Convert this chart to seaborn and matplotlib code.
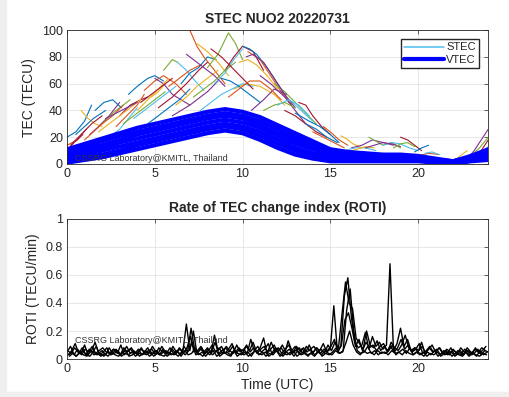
import numpy as np
import pandas as pd
import matplotlib
matplotlib.use("Agg")
import matplotlib.pyplot as plt
from matplotlib.lines import Line2D
from matplotlib.patches import Rectangle
import seaborn as sns

# STEC arcs: (hours, TECU)
stec_arcs = [
    ([0.0, 0.5, 1.0, 1.4], [20, 24, 32, 44]),
    ([0.0, 0.6, 1.1], [14, 18, 26]),
    ([0.8, 1.2, 1.6, 2.0], [40, 34, 30, 28]),
    ([1.3, 1.8, 2.4, 3.0], [22, 28, 36, 46]),
    ([2.0, 2.6, 3.2, 3.6], [30, 38, 44, 48]),
    ([2.4, 3.0, 3.5, 4.0], [20, 26, 34, 42]),
    ([3.0, 3.6, 4.2, 4.6], [36, 44, 48, 50]),
    ([3.5, 4.0, 4.6, 5.0, 5.5], [52, 58, 64, 66, 62]),
    ([4.4, 5.0, 5.5, 6.2, 6.8], [55, 62, 66, 60, 52]),
    ([4.8, 5.2, 5.6], [50, 54, 60]),
    ([5.0, 5.5, 6.0, 6.5, 7.0], [64, 60, 52, 48, 44]),
    ([5.5, 6.0, 6.3], [70, 78, 76]),
    ([6.3, 6.8, 7.3, 7.8], [76, 70, 62, 55]),
    ([5.2, 6.0, 6.8, 7.5, 8.0], [42, 50, 60, 70, 76]),
    ([6.5, 7.0, 7.5, 8.0, 8.5], [60, 68, 72, 80, 78]),
    ([7.0, 7.4, 7.8, 8.4, 9.0], [100, 88, 80, 70, 60]),
    ([7.4, 8.0, 8.6, 9.2], [90, 84, 76, 66]),
    ([6.0, 7.0, 8.0, 8.6], [36, 44, 54, 62]),
    ([8.0, 8.6, 9.2, 9.6, 10.0], [72, 82, 98, 90, 78]),
    ([8.4, 9.0, 9.5, 10.0], [60, 68, 78, 86]),
    ([9.0, 9.5, 10.0, 10.6, 11.2], [70, 80, 88, 84, 70]),
    ([10.0, 10.4, 10.8, 11.4, 12.0, 12.6], [88, 86, 82, 72, 60, 48]),
    ([10.3, 11.0, 11.6, 12.2, 12.8], [84, 78, 66, 54, 44]),
    ([9.5, 10.2, 11.0, 11.8, 12.4], [56, 60, 58, 52, 44]),
    ([11.0, 11.6, 12.4, 13.0, 13.6], [66, 60, 50, 40, 30]),
    ([11.8, 12.4, 13.0, 13.6, 14.2], [60, 54, 46, 38, 30]),
    ([12.5, 13.0, 13.5, 14.0], [50, 44, 38, 32]),
    ([13.2, 13.6, 14.0, 14.5, 15.0], [46, 44, 36, 28, 22]),
    ([13.0, 13.8, 14.4, 15.0, 15.5], [38, 32, 28, 22, 16]),
    ([14.6, 15.0, 15.5, 16.0], [28, 24, 18, 14]),
    ([15.6, 15.9, 16.3, 16.8], [21, 19, 15, 12]),
    ([16.2, 16.8, 17.4, 18.0, 18.6], [12, 14, 18, 16, 14]),
    ([17.2, 17.6, 18.0, 18.5, 19.0], [20, 17, 14, 16, 12]),
    ([18.0, 18.5, 19.0, 19.5, 20.0], [14, 16, 15, 12, 10]),
    ([19.0, 19.4, 19.8, 20.2], [20, 18, 14, 10]),
    ([19.8, 20.2, 20.6], [9, 12, 14]),
    ([20.0, 20.6, 21.2], [6, 8, 7]),
    ([22.0, 22.4, 22.8], [2, 6, 10]),
    ([22.8, 23.2, 23.6, 24.0], [4, 10, 18, 26]),
    ([23.0, 23.5, 24.0], [6, 12, 20]),
    ([23.3, 23.7, 24.0], [5, 9, 13]),
    ([0.2, 0.8, 1.4, 2.0], [14, 22, 30, 36]),
    ([1.6, 2.1, 2.6, 3.1], [40, 46, 48, 42]),
    ([2.8, 3.4, 4.0, 4.4], [28, 36, 44, 52]),
    ([4.0, 4.6, 5.2, 5.8], [40, 48, 56, 64]),
    ([10.5, 11.2, 11.8, 12.5], [40, 48, 56, 52]),
    ([14.5, 15.2, 15.8, 16.4], [12, 10, 9, 8]),
    ([15.8, 16.4, 17.0, 17.6], [10, 12, 12, 10]),
    ([0.0, 0.4, 0.9], [10, 16, 22]),
    ([0.5, 1.0, 1.5, 2.2], [22, 28, 34, 40]),
    ([1.0, 1.5, 2.0, 2.6, 3.2], [18, 24, 30, 36, 44]),
    ([1.8, 2.4, 3.0, 3.6, 4.2], [24, 30, 36, 42, 48]),
    ([2.2, 2.8, 3.4, 4.0], [34, 38, 42, 46]),
    ([3.2, 3.8, 4.4, 5.0, 5.6], [30, 36, 42, 48, 54]),
    ([3.8, 4.4, 5.0, 5.6, 6.2], [34, 40, 46, 52, 58]),
    ([4.2, 4.8, 5.4, 6.0], [46, 52, 58, 64]),
    ([4.6, 5.2, 5.8, 6.4, 7.0], [30, 36, 42, 48, 56]),
    ([5.8, 6.4, 7.0, 7.6], [58, 64, 70, 74]),
    ([6.2, 6.8, 7.4, 8.0, 8.6], [44, 50, 58, 64, 70]),
    ([6.8, 7.2, 7.8, 8.4, 9.0], [82, 78, 72, 66, 58]),
    ([7.2, 7.8, 8.4, 9.0, 9.6], [50, 56, 62, 70, 76]),
    ([7.6, 8.2, 8.8, 9.4, 10.0, 10.6], [40, 46, 52, 56, 60, 58]),
    ([8.2, 8.8, 9.4, 10.0, 10.6], [86, 80, 72, 64, 56]),
    ([8.8, 9.3, 9.8, 10.4, 11.0], [64, 62, 58, 52, 46]),
    ([9.2, 9.8, 10.4, 11.0, 11.6, 12.2], [50, 56, 62, 62, 56, 48]),
    ([9.8, 10.3, 10.8, 11.4, 12.0], [76, 78, 74, 66, 56]),
    ([10.2, 10.6, 11.2, 11.8, 12.4, 13.0], [80, 82, 76, 64, 52, 42]),
    ([11.2, 11.8, 12.4, 13.0], [40, 44, 46, 42]),
    ([12.0, 12.6, 13.2, 13.8], [44, 48, 44, 36]),
    ([12.4, 13.0, 13.6, 14.2, 14.8], [40, 36, 30, 24, 20]),
    ([13.6, 14.2, 14.8, 15.4], [30, 26, 20, 16]),
    ([14.0, 14.6, 15.2, 15.8], [24, 20, 16, 12]),
    ([16.0, 16.5, 17.0, 17.5], [9, 11, 13, 12]),
    ([17.0, 17.5, 18.0, 18.5, 19.0], [12, 14, 16, 15, 13]),
    ([18.6, 19.0, 19.4, 19.8], [12, 15, 16, 13]),
    ([20.4, 20.8, 21.2], [8, 9, 7]),
    ([23.5, 23.8, 24.0], [8, 14, 18]),
]

# VTEC band, hourly values 0..24 h
vtec_hours = list(range(25))
vtec_lines = [
    [1, 3, 5, 8, 11, 14, 17, 20, 23, 25, 23, 18, 12, 7, 4, 2, 2, 2, 2, 2, 2, 1, 0, 2, 3],
    [3, 5, 7, 10, 14, 17, 20, 23, 26, 28, 26, 21, 15, 10, 6, 4, 3, 3, 3, 3, 3, 1, 1, 3, 4],
    [4, 7, 10, 13, 16, 19, 22, 25, 28, 30, 28, 24, 18, 12, 8, 5, 4, 4, 4, 4, 3, 2, 1, 3, 6],
    [6, 9, 12, 16, 19, 22, 25, 28, 31, 33, 31, 27, 21, 15, 11, 7, 6, 5, 5, 4, 4, 2, 1, 4, 7],
    [8, 11, 14, 18, 22, 25, 28, 31, 34, 36, 34, 29, 23, 18, 13, 8, 7, 6, 5, 5, 5, 3, 2, 5, 8],
    [9, 13, 17, 21, 24, 27, 30, 33, 36, 38, 36, 32, 26, 20, 15, 10, 8, 7, 6, 6, 5, 3, 2, 5, 10],
    [11, 15, 19, 23, 27, 30, 33, 36, 39, 41, 39, 35, 29, 23, 17, 11, 9, 8, 7, 7, 6, 4, 2, 6, 11],
]

# ROTI, 0.2 h steps, five overlapping series
roti_a = [
    0.05, 0.09, 0.03, 0.07, 0.04, 0.10, 0.03, 0.06, 0.12, 0.04,
    0.06, 0.03, 0.08, 0.04, 0.07, 0.03, 0.05, 0.09, 0.04, 0.06,
    0.03, 0.07, 0.05, 0.08, 0.03, 0.06, 0.04, 0.09, 0.05, 0.03,
    0.07, 0.04, 0.08, 0.05, 0.25, 0.06, 0.20, 0.04, 0.07, 0.05,
    0.08, 0.04, 0.17, 0.06, 0.09, 0.04, 0.07, 0.11, 0.05, 0.08,
    0.04, 0.09, 0.06, 0.12, 0.05, 0.08, 0.15, 0.04, 0.07, 0.10,
    0.05, 0.08, 0.04, 0.13, 0.06, 0.09, 0.04, 0.07, 0.05, 0.10,
    0.04, 0.08, 0.06, 0.11, 0.05, 0.07, 0.38, 0.06, 0.09, 0.45,
    0.58, 0.30, 0.12, 0.08, 0.10, 0.19, 0.07, 0.16, 0.09, 0.12,
    0.07, 0.10, 0.68, 0.06, 0.11, 0.22, 0.09, 0.14, 0.06, 0.08,
    0.05, 0.12, 0.04, 0.07, 0.10, 0.05, 0.08, 0.04, 0.06, 0.03,
    0.07, 0.04, 0.06, 0.03, 0.08, 0.05, 0.04, 0.07, 0.03, 0.06,
    0.05,
]
roti_b = [
    0.03, 0.06, 0.11, 0.04, 0.08, 0.03, 0.07, 0.05, 0.09, 0.03,
    0.05, 0.08, 0.03, 0.07, 0.04, 0.10, 0.03, 0.06, 0.08, 0.04,
    0.07, 0.03, 0.06, 0.04, 0.09, 0.05, 0.03, 0.07, 0.04, 0.08,
    0.04, 0.06, 0.03, 0.09, 0.05, 0.22, 0.07, 0.05, 0.08, 0.04,
    0.06, 0.10, 0.05, 0.08, 0.04, 0.09, 0.06, 0.04, 0.10, 0.05,
    0.07, 0.04, 0.14, 0.06, 0.09, 0.05, 0.07, 0.11, 0.04, 0.08,
    0.06, 0.10, 0.05, 0.07, 0.04, 0.09, 0.06, 0.08, 0.05, 0.07,
    0.09, 0.05, 0.07, 0.04, 0.10, 0.06, 0.12, 0.08, 0.32, 0.55,
    0.40, 0.36, 0.15, 0.11, 0.07, 0.20, 0.10, 0.08, 0.13, 0.06,
    0.09, 0.05, 0.12, 0.08, 0.06, 0.10, 0.17, 0.08, 0.05, 0.07,
    0.11, 0.04, 0.06, 0.09, 0.05, 0.07, 0.03, 0.06, 0.04, 0.08,
    0.03, 0.06, 0.04, 0.07, 0.05, 0.03, 0.08, 0.04, 0.06, 0.09,
    0.04,
]
roti_c = [
    0.02, 0.04, 0.02, 0.05, 0.03, 0.02, 0.06, 0.03, 0.04, 0.02,
    0.04, 0.02, 0.05, 0.03, 0.02, 0.04, 0.06, 0.02, 0.03, 0.05,
    0.02, 0.04, 0.03, 0.06, 0.02, 0.04, 0.03, 0.02, 0.05, 0.03,
    0.04, 0.02, 0.05, 0.03, 0.06, 0.12, 0.03, 0.04, 0.02, 0.05,
    0.03, 0.06, 0.02, 0.04, 0.05, 0.03, 0.02, 0.06, 0.04, 0.03,
    0.05, 0.02, 0.04, 0.06, 0.03, 0.05, 0.02, 0.04, 0.03, 0.06,
    0.02, 0.04, 0.03, 0.05, 0.02, 0.06, 0.03, 0.04, 0.02, 0.05,
    0.03, 0.06, 0.02, 0.04, 0.03, 0.05, 0.08, 0.04, 0.06, 0.35,
    0.50, 0.20, 0.06, 0.04, 0.05, 0.09, 0.04, 0.06, 0.03, 0.05,
    0.04, 0.06, 0.10, 0.03, 0.05, 0.07, 0.04, 0.08, 0.03, 0.05,
    0.04, 0.02, 0.05, 0.03, 0.06, 0.02, 0.04, 0.03, 0.05, 0.02,
    0.04, 0.03, 0.02, 0.05, 0.03, 0.04, 0.02, 0.06, 0.03, 0.05,
    0.03,
]
roti_d = [
    0.06, 0.04, 0.08, 0.05, 0.03, 0.07, 0.05, 0.09, 0.04, 0.06,
    0.08, 0.05, 0.04, 0.07, 0.06, 0.03, 0.08, 0.05, 0.07, 0.04,
    0.05, 0.08, 0.04, 0.06, 0.07, 0.03, 0.08, 0.05, 0.06, 0.04,
    0.09, 0.05, 0.07, 0.04, 0.08, 0.16, 0.05, 0.06, 0.09, 0.04,
    0.07, 0.05, 0.12, 0.04, 0.06, 0.08, 0.05, 0.09, 0.04, 0.07,
    0.06, 0.10, 0.05, 0.08, 0.04, 0.07, 0.09, 0.05, 0.12, 0.06,
    0.08, 0.04, 0.07, 0.10, 0.05, 0.06, 0.08, 0.04, 0.09, 0.06,
    0.05, 0.08, 0.04, 0.07, 0.06, 0.09, 0.14, 0.05, 0.10, 0.28,
    0.33, 0.22, 0.09, 0.14, 0.06, 0.12, 0.08, 0.10, 0.06, 0.09,
    0.11, 0.06, 0.09, 0.05, 0.08, 0.14, 0.07, 0.10, 0.05, 0.08,
    0.06, 0.09, 0.04, 0.08, 0.05, 0.06, 0.08, 0.04, 0.07, 0.05,
    0.06, 0.04, 0.08, 0.05, 0.06, 0.04, 0.07, 0.05, 0.08, 0.06,
    0.05,
]
roti_e = [
    0.03, 0.05, 0.02, 0.04, 0.06, 0.03, 0.02, 0.05, 0.03, 0.04,
    0.02, 0.05, 0.03, 0.04, 0.06, 0.02, 0.04, 0.03, 0.05, 0.02,
    0.04, 0.03, 0.05, 0.02, 0.04, 0.06, 0.03, 0.05, 0.02, 0.04,
    0.03, 0.05, 0.02, 0.06, 0.03, 0.04, 0.08, 0.03, 0.05, 0.02,
    0.05, 0.03, 0.06, 0.02, 0.04, 0.05, 0.03, 0.06, 0.02, 0.04,
    0.03, 0.05, 0.02, 0.06, 0.04, 0.03, 0.05, 0.02, 0.04, 0.06,
    0.04, 0.02, 0.05, 0.03, 0.06, 0.02, 0.04, 0.05, 0.03, 0.04,
    0.02, 0.05, 0.03, 0.06, 0.04, 0.03, 0.06, 0.04, 0.05, 0.12,
    0.20, 0.10, 0.05, 0.03, 0.06, 0.04, 0.05, 0.03, 0.06, 0.04,
    0.05, 0.03, 0.06, 0.04, 0.05, 0.03, 0.06, 0.04, 0.03, 0.05,
    0.03, 0.05, 0.02, 0.04, 0.03, 0.05, 0.02, 0.04, 0.03, 0.05,
    0.02, 0.04, 0.03, 0.05, 0.02, 0.04, 0.03, 0.02, 0.04, 0.03,
    0.03,
]
roti_series = [roti_a, roti_b, roti_c, roti_d, roti_e]
roti_offsets = [0.0, 0.067, 0.133, 0.033, 0.1]

matlab_colors = ["#0072BD", "#D95319", "#EDB120", "#7E2F8E",
                 "#77AC30", "#4DBEEE", "#A2142F"]

roti_grid = np.arange(121) * 0.2

sns.set_style("whitegrid")
plt.rcParams["font.family"] = ["Liberation Sans", "DejaVu Sans"]

fig = plt.figure(figsize=(5.10, 3.97), dpi=100)
fig.patch.set_facecolor("white")
fig.add_artist(Rectangle((0, 0), 6 / 510, 1, transform=fig.transFigure,
                         color="#efefef", zorder=-1))
fig.add_artist(Rectangle((0, 0), 1, 5 / 397, transform=fig.transFigure,
                         color="#efefef", zorder=-1))

ax1 = fig.add_axes([0.1314, 0.587, 0.826, 0.337])
ax2 = fig.add_axes([0.1314, 0.0957, 0.826, 0.3527])

# top panel: thin STEC arcs then thick VTEC
for i, (t, v) in enumerate(stec_arcs):
    sns.lineplot(x=t, y=v, color=matlab_colors[i % 7], lw=0.8,
                 estimator=None, sort=False, ax=ax1)
for v in vtec_lines:
    sns.lineplot(x=vtec_hours, y=v, color="#0000FF", lw=3.0,
                 estimator=None, sort=False, ax=ax1)

# bottom panel: ROTI
for off, s in zip(roti_offsets, roti_series):
    t = roti_grid + off
    keep = t <= 24
    sns.lineplot(x=t[keep], y=np.array(s)[keep], color="black", lw=1.0,
                 estimator=None, sort=False, ax=ax2)

for ax in (ax1, ax2):
    ax.set_xlim(0, 24)
    ax.set_xticks([0, 5, 10, 15, 20])
    ax.grid(True, color="#e3e3e3", lw=0.6)
    ax.tick_params(direction="in", length=3, width=0.5, labelsize=9,
                   top=True, right=True, colors="#262626", pad=3)
    for sp in ax.spines.values():
        sp.set_color("#262626")
        sp.set_linewidth(0.6)

ax1.set_ylim(0, 100)
ax1.set_yticks([0, 20, 40, 60, 80, 100])
ax1.set_xlabel("")
ax1.set_ylabel("TEC (TECU)", fontsize=10, color="#262626")
ax1.set_title("STEC NUO2 20220731", fontsize=10, fontweight="bold", pad=5)
ax1.text(0.018, 0.02, "CSSRG Laboratory@KMITL, Thailand", transform=ax1.transAxes,
         fontsize=6.5, color="#333333")
handles = [Line2D([], [], color="#4DBEEE", lw=1.1),
           Line2D([], [], color="#0000FF", lw=3.0)]
ax1.legend(handles, ["STEC", "VTEC"], loc="upper right", fontsize=8,
           frameon=True, fancybox=False, edgecolor="#262626", framealpha=1,
           handlelength=3.6, handletextpad=0.2, borderpad=0.3, labelspacing=0.2,
           borderaxespad=0.8)

ax2.set_ylim(0, 1)
ax2.set_yticks([0, 0.2, 0.4, 0.6, 0.8, 1])
ax2.set_yticklabels(["0", "0.2", "0.4", "0.6", "0.8", "1"])
ax2.set_xlabel("Time (UTC)", fontsize=10, color="#262626", labelpad=2)
ax2.set_ylabel("ROTI (TECU/min)", fontsize=10, color="#262626")
ax2.set_title("Rate of TEC change index (ROTI)", fontsize=10, fontweight="bold", pad=5)
ax2.text(0.018, 0.115, "CSSRG Laboratory@KMITL, Thailand", transform=ax2.transAxes,
         fontsize=6.5, color="#333333")

fig.savefig("out.png", dpi=100)
